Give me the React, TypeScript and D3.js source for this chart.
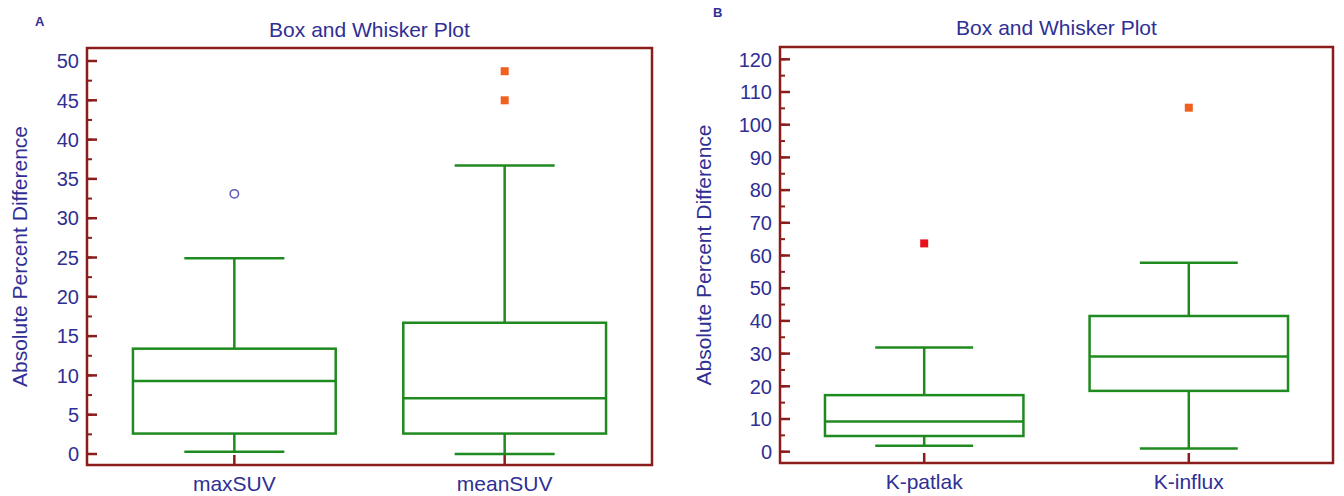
import React from "react";
import * as d3 from "d3";

// ---------- Data ----------
const titleText = "Box and Whisker Plot";
const yAxisLabel = "Absolute Percent Difference";

const catsA = ["maxSUV", "meanSUV"];
const lowA = [0.3, 0.0];
const q1A = [2.6, 2.6];
const medA = [9.3, 7.1];
const q3A = [13.4, 16.7];
const highA = [24.9, 36.7];
const outA = [[33.1], [45.0, 48.7]];
const outStyleA = ["circle", "square"];
const ticksA = [0, 5, 10, 15, 20, 25, 30, 35, 40, 45, 50];

const catsB = ["K-patlak", "K-influx"];
const lowB = [1.8, 1.0];
const q1B = [4.8, 18.6];
const medB = [9.2, 29.1];
const q3B = [17.3, 41.5];
const highB = [31.9, 57.8];
const outB = [[63.7], [105.2]];
const outStyleB = ["squareRed", "square"];
const ticksB = [0, 10, 20, 30, 40, 50, 60, 70, 80, 90, 100, 110, 120];

// ---------- Styles ----------
const TXT = "#2f2f94";
const FRAME = "#8a1c1c";
const GREEN = "#1f8a1f";
const FONT = "'Liberation Sans', Arial, sans-serif";
const LABEL_SIZE = 21;
const TICK_SIZE = 20;

type PanelProps = {
  letter: string;
  letterX: number;
  letterY: number;
  left: number;
  right: number;
  top: number;
  bottom: number;
  y0: number;
  yTop: number;
  yMax: number;
  minorStep: number;
  ticks: number[];
  cats: string[];
  low: number[];
  q1: number[];
  med: number[];
  q3: number[];
  high: number[];
  out: number[][];
  outStyle: string[];
  titleY: number;
  yLabelX: number;
  catLabelY: number;
};

function Panel(p: PanelProps) {
  const y = d3.scaleLinear().domain([0, p.yMax]).range([p.y0, p.yTop]);
  const x = d3.scalePoint<string>().domain(p.cats).range([p.left, p.right]).padding(0.545);
  const step = x.step();
  const boxW = step * 0.75;
  const capW = step * 0.37;
  const minor = d3.range(0, p.yMax + 0.001, p.minorStep);
  const cx = (p.left + p.right) / 2;
  const cy = (p.top + p.bottom) / 2;
  return (
    <g>
      <text x={p.letterX} y={p.letterY} fontSize={13} fontWeight="bold" fill={TXT} fontFamily={FONT}>
        {p.letter}
      </text>
      <text x={cx} y={p.titleY} fontSize={LABEL_SIZE} fill={TXT} fontFamily={FONT} textAnchor="middle">
        {titleText}
      </text>
      <text
        transform={`translate(${p.yLabelX},${cy}) rotate(-90)`}
        fontSize={LABEL_SIZE}
        fill={TXT}
        fontFamily={FONT}
        textAnchor="middle"
      >
        {yAxisLabel}
      </text>
      {minor.map((v) => (
        <line key={"m" + v} x1={p.left} x2={p.left + 5} y1={y(v)} y2={y(v)} stroke={FRAME} strokeWidth={2} />
      ))}
      {p.ticks.map((v) => (
        <g key={"t" + v}>
          <line x1={p.left} x2={p.left + 10} y1={y(v)} y2={y(v)} stroke={FRAME} strokeWidth={2.5} />
          <text
            x={p.left - 8}
            y={y(v)}
            dy="0.36em"
            fontSize={TICK_SIZE}
            fill={TXT}
            fontFamily={FONT}
            textAnchor="end"
          >
            {v}
          </text>
        </g>
      ))}
      {p.cats.map((c, i) => {
        const xc = x(c) as number;
        return (
          <g key={c}>
            <line x1={xc} x2={xc} y1={p.bottom} y2={p.bottom - 10} stroke={FRAME} strokeWidth={2.5} />
            <text x={xc} y={p.catLabelY} fontSize={LABEL_SIZE} fill={TXT} fontFamily={FONT} textAnchor="middle">
              {c}
            </text>
            <line x1={xc} x2={xc} y1={y(p.low[i])} y2={y(p.q1[i])} stroke={GREEN} strokeWidth={2.5} />
            <line x1={xc} x2={xc} y1={y(p.q3[i])} y2={y(p.high[i])} stroke={GREEN} strokeWidth={2.5} />
            <line x1={xc - capW / 2} x2={xc + capW / 2} y1={y(p.low[i])} y2={y(p.low[i])} stroke={GREEN} strokeWidth={2.5} />
            <line x1={xc - capW / 2} x2={xc + capW / 2} y1={y(p.high[i])} y2={y(p.high[i])} stroke={GREEN} strokeWidth={2.5} />
            <rect
              x={xc - boxW / 2}
              y={y(p.q3[i])}
              width={boxW}
              height={y(p.q1[i]) - y(p.q3[i])}
              fill="none"
              stroke={GREEN}
              strokeWidth={2.5}
            />
            <line x1={xc - boxW / 2} x2={xc + boxW / 2} y1={y(p.med[i])} y2={y(p.med[i])} stroke={GREEN} strokeWidth={2.5} />
            {p.out[i].map((v, j) =>
              p.outStyle[i] === "circle" ? (
                <circle key={j} cx={xc} cy={y(v)} r={4.2} fill="none" stroke="#5a5ab8" strokeWidth={1.5} />
              ) : (
                <rect
                  key={j}
                  x={xc - 4}
                  y={y(v) - 4}
                  width={8}
                  height={8}
                  fill={p.outStyle[i] === "squareRed" ? "#e8101a" : "#f0601e"}
                />
              )
            )}
          </g>
        );
      })}
      <rect
        x={p.left}
        y={p.top}
        width={p.right - p.left}
        height={p.bottom - p.top}
        fill="none"
        stroke={FRAME}
        strokeWidth={2.5}
      />
    </g>
  );
}

export default function App() {
  return (
    <svg width={1344} height={496} style={{ position: "absolute", left: 0, top: 0, background: "#fff" }}>
      <rect x={0} y={0} width={1344} height={496} fill="#fff" />
      <Panel
        letter="A"
        letterX={35}
        letterY={26}
        left={87}
        right={652}
        top={48}
        bottom={465}
        y0={454}
        yTop={61}
        yMax={50}
        minorStep={2.5}
        ticks={ticksA}
        cats={catsA}
        low={lowA}
        q1={q1A}
        med={medA}
        q3={q3A}
        high={highA}
        out={outA}
        outStyle={outStyleA}
        titleY={37}
        yLabelX={27}
        catLabelY={491}
      />
      <Panel
        letter="B"
        letterX={713}
        letterY={17}
        left={780}
        right={1333}
        top={47}
        bottom={463}
        y0={451.7}
        yTop={59.3}
        yMax={120}
        minorStep={5}
        ticks={ticksB}
        cats={catsB}
        low={lowB}
        q1={q1B}
        med={medB}
        q3={q3B}
        high={highB}
        out={outB}
        outStyle={outStyleB}
        titleY={35}
        yLabelX={711}
        catLabelY={489}
      />
    </svg>
  );
}
